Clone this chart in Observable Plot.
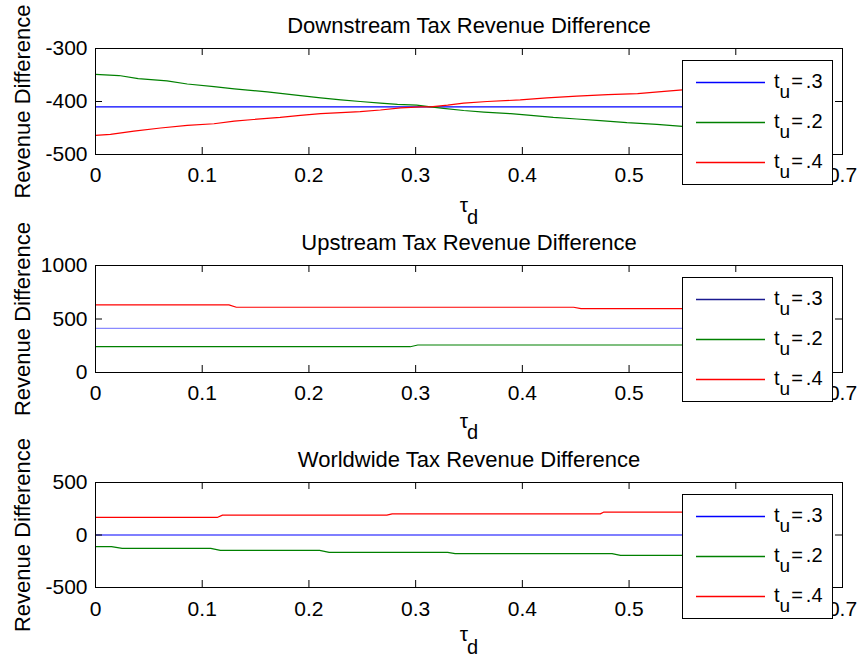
<!DOCTYPE html>
<html><head><meta charset="utf-8">
<script src="https://cdn.jsdelivr.net/npm/d3@7"></script>
<script src="https://cdn.jsdelivr.net/npm/@observablehq/plot@0.6"></script>
<style>
body{margin:0;background:#fff;}
#fig{position:relative;width:861px;height:660px;background:#fff;font-family:"Liberation Sans",Arial,sans-serif;overflow:hidden;}
#fig > svg{position:absolute;left:0;}
.legend{position:absolute;background:#fff;border:1px solid #000;box-sizing:border-box;z-index:5;}
.legend svg.lns{position:absolute;left:0;top:0;}
.legend .tx{position:absolute;font-size:20px;line-height:20px;white-space:nowrap;color:#000;}
.legend .tx .sub{position:relative;top:10px;font-size:19px;}
.legend .tx .eq{margin:0 3px 0 1px;}
</style></head><body><div id="fig"></div><script>
// ---- data ----
const xTicks = [0, 0.1, 0.2, 0.3, 0.4, 0.5, 0.6, 0.7];
const xTickLabels = ["0", "0.1", "0.2", "0.3", "0.4", "0.5", "0.6", "0.7"];
const panelTitles = ["Downstream Tax Revenue Difference", "Upstream Tax Revenue Difference", "Worldwide Tax Revenue Difference"];
const yLabel = "Revenue Difference";
const xLabelMain = "τ";
const xLabelSub = "d";
const legendBase = "t";
const legendSub = "u";
const legendValues = [".3", ".2", ".4"];

const dsYTicks = [-500, -400, -300];
const dsYTickLabels = ["-500", "-400", "-300"];
const usYTicks = [0, 500, 1000];
const usYTickLabels = ["0", "500", "1000"];
const wwYTicks = [-500, 0, 500];
const wwYTickLabels = ["-500", "0", "500"];

// Downstream
const dsT3x = [0, 0.65];
const dsT3y = [-410, -410];
const dsT2x = [0, 0.022, 0.04, 0.067, 0.086, 0.111, 0.13, 0.161, 0.192, 0.211, 0.23, 0.248, 0.267, 0.283, 0.301, 0.314, 0.326, 0.345, 0.364, 0.389, 0.408, 0.429, 0.451, 0.473, 0.498, 0.526, 0.55, 0.6, 0.65];
const dsT2y = [-349, -351, -357, -361, -367, -372, -376, -382, -389, -393, -397, -400, -403, -405.5, -407, -410, -413, -417, -420, -423, -426, -430, -433, -436, -440, -443, -447, -453, -459];
const dsT4x = [0, 0.014, 0.036, 0.061, 0.086, 0.111, 0.13, 0.148, 0.173, 0.192, 0.211, 0.23, 0.248, 0.267, 0.286, 0.305, 0.314, 0.33, 0.345, 0.367, 0.398, 0.423, 0.451, 0.48, 0.508, 0.533, 0.55, 0.6, 0.65];
const dsT4y = [-464, -462, -456, -450, -445, -442, -437, -434, -430, -426, -423, -421, -419, -416, -412, -410, -410, -407, -403, -400, -397, -393, -390, -387, -385, -381, -378, -373, -368];

// Upstream
const usT3x = [0, 0.65];
const usT3y = [413, 413];
const usT2x = [0, 0.295, 0.302, 0.65];
const usT2y = [241, 241, 257, 257];
const usT4x = [0, 0.125, 0.132, 0.448, 0.455, 0.65];
const usT4y = [632, 632, 610, 610, 597, 597];

// Worldwide
const wwT3x = [0, 0.65];
const wwT3y = [0, 0];
const wwT2x = [0, 0.015, 0.025, 0.108, 0.117, 0.21, 0.219, 0.33, 0.337, 0.484, 0.492, 0.65];
const wwT2y = [-111, -111, -127, -127, -147, -147, -166, -166, -178, -178, -194, -194];
const wwT4x = [0, 0.114, 0.119, 0.273, 0.278, 0.473, 0.476, 0.65];
const wwT4y = [167, 167, 189, 189, 201, 201, 217, 217];

// ---- drawing ----
const fig = document.getElementById("fig");
const W = 861, ML = 95, MR = 19;
const plotW = W - ML - MR;
const TICK = 7;
const SVGNS = "http://www.w3.org/2000/svg";

function panel(o) {
  const plotH = o.height - o.mt - o.mb;
  const marks = [];
  o.series.forEach((s, i) => {
    marks.push(Plot.line(d3.zip(s[0], s[1]), {x: d => d[0], y: d => d[1], stroke: o.lineColors[i], strokeWidth: 1.2}));
  });
  marks.push(
    Plot.frame({stroke: "black", strokeWidth: 1}),
    Plot.tickX(xTicks, {x: d => d, insetTop: plotH - TICK, stroke: "black"}),
    Plot.tickX(xTicks, {x: d => d, insetBottom: plotH - TICK, stroke: "black"}),
    Plot.tickY(o.yTicks, {y: d => d, insetRight: plotW - TICK, stroke: "black"}),
    Plot.tickY(o.yTicks, {y: d => d, insetLeft: plotW - TICK, stroke: "black"}),
    Plot.axisX(xTicks, {tickSize: 0, tickPadding: o.xPad, tickFormat: d => xTickLabels[xTicks.indexOf(d)], fontSize: 21, label: null}),
    Plot.axisY(o.yTicks, {tickSize: 0, tickPadding: 8, tickFormat: d => o.yTickLabels[o.yTicks.indexOf(d)], fontSize: 21, label: null}),
    Plot.text([o.title], {text: d => d, frameAnchor: "top", dy: -16, lineAnchor: "bottom", fontSize: 22}),
    Plot.text([yLabel], {text: d => d, frameAnchor: "left", textAnchor: "middle", lineAnchor: "middle", rotate: -90, dx: -73, fontSize: 22}),
    Plot.text([xLabelMain], {text: d => d, frameAnchor: "bottom", textAnchor: "middle", dx: -5, dy: o.tauDy, lineAnchor: "bottom", fontSize: 21}),
    Plot.text([xLabelSub], {text: d => d, frameAnchor: "bottom", textAnchor: "middle", dx: 3.5, dy: o.dDy, lineAnchor: "bottom", fontSize: 20})
  );
  const svg = Plot.plot({
    width: W, height: o.height,
    marginLeft: ML, marginRight: MR, marginTop: o.mt, marginBottom: o.mb,
    x: {domain: [0, 0.7]},
    y: {domain: [o.yTicks[0], o.yTicks[o.yTicks.length - 1]]},
    style: {background: "transparent", overflow: "visible", fontFamily: "'Liberation Sans', Arial, sans-serif", color: "black", fontSize: "21px"},
    marks
  });
  svg.style.top = o.top + "px";
  fig.appendChild(svg);
  return svg;
}

function legend(o) {
  const lg = document.createElement("div");
  lg.className = "legend";
  lg.style.left = "682px";
  lg.style.top = (o.top + o.mt + 12) + "px";
  lg.style.width = "151px";
  lg.style.height = "125px";
  const ls = document.createElementNS(SVGNS, "svg");
  ls.setAttribute("class", "lns");
  ls.setAttribute("width", "149");
  ls.setAttribute("height", "123");
  legendValues.forEach((v, i) => {
    const ln = document.createElementNS(SVGNS, "line");
    const yy = 21.5 + 40 * i;
    ln.setAttribute("x1", "13");
    ln.setAttribute("x2", "82");
    ln.setAttribute("y1", yy);
    ln.setAttribute("y2", yy);
    ln.setAttribute("stroke", o.legendColors[i]);
    ln.setAttribute("stroke-width", "1.3");
    ls.appendChild(ln);
    const tx = document.createElement("div");
    tx.className = "tx";
    tx.style.left = "91px";
    tx.style.top = (10 + 40 * i) + "px";
    tx.innerHTML = `${legendBase}<span class="sub">${legendSub}</span><span class="eq">=</span>${v}`;
    lg.appendChild(tx);
  });
  lg.appendChild(ls);
  fig.appendChild(lg);
}

const BLUE = "#0000ff", GREEN = "#008000", RED = "#ff0000";

const P = [
  {top: 0, height: 226, mt: 48, mb: 72, xPad: 13, tauDy: 57, dDy: 69,
   yTicks: dsYTicks, yTickLabels: dsYTickLabels, title: panelTitles[0],
   series: [[dsT3x, dsT3y], [dsT2x, dsT2y], [dsT4x, dsT4y]],
   lineColors: [BLUE, GREEN, RED], legendColors: [BLUE, GREEN, RED]},
  {top: 226, height: 216, mt: 39, mb: 70, xPad: 13, tauDy: 55, dDy: 66,
   yTicks: usYTicks, yTickLabels: usYTickLabels, title: panelTitles[1],
   series: [[usT3x, usT3y], [usT2x, usT2y], [usT4x, usT4y]],
   lineColors: ["#8a8aff", GREEN, RED], legendColors: ["#1a1a90", "#008000", "#ff0000"]},
  {top: 442, height: 218, mt: 40, mb: 73, xPad: 14, tauDy: 53, dDy: 66,
   yTicks: wwYTicks, yTickLabels: wwYTickLabels, title: panelTitles[2],
   series: [[wwT3x, wwT3y], [wwT2x, wwT2y], [wwT4x, wwT4y]],
   lineColors: [BLUE, GREEN, RED], legendColors: [BLUE, GREEN, RED]}
];
P.forEach(panel);
P.forEach(legend);
</script></body></html>
